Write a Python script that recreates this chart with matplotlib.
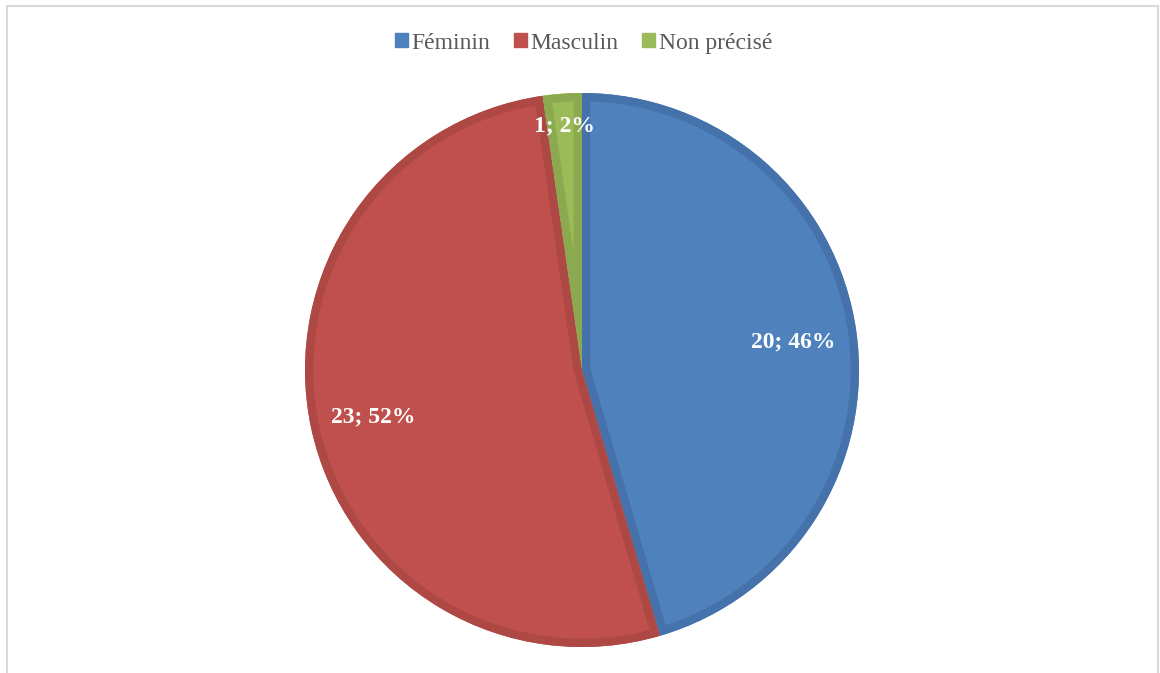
import matplotlib.pyplot as plt
from matplotlib.patches import Wedge
import numpy as np

labels = ["Féminin", "Masculin", "Non précisé"]
counts = [20, 23, 1]
percents = [46, 52, 2]
colors = ["#4F81BD", "#C0504D", "#9BBB59"]
edge_colors = ["#4672AB", "#AE4845", "#8BA94F"]

plt.rcParams['font.family'] = ['Liberation Serif', 'DejaVu Serif']

fig = plt.figure(figsize=(11.6, 6.73), dpi=100)
ax = fig.add_axes([0, 0, 1, 1])

cx, cy, r = 582, 303, 277
wedges, _ = ax.pie(counts, colors=colors, startangle=90, counterclock=False,
                   center=(cx, cy), radius=r, frame=True,
                   wedgeprops=dict(edgecolor='none'))
ax.set_xlim(0, 1160)
ax.set_ylim(0, 673)
ax.set_aspect('equal')
ax.axis('off')

# darker inner border on each slice: thick outline clipped to the slice
for w, ec in zip(wedges, edge_colors):
    border = Wedge(w.center, w.r, w.theta1, w.theta2, fill=False,
                   edgecolor=ec, linewidth=12)
    ax.add_patch(border)
    border.set_clip_path(w)

dists = [0.77, 0.77, 0.89]
for w, n, p, d in zip(wedges, counts, percents, dists):
    th = np.deg2rad((w.theta1 + w.theta2) / 2)
    ax.text(cx + d * r * np.cos(th), cy + d * r * np.sin(th) - 2, f"{n}; {p}%",
            ha='center', va='center', color='white', fontsize=17,
            fontweight='bold')

handles = [plt.Rectangle((0, 0), 1, 1, color=c) for c in colors]
fig.legend(handles, labels, loc='center', bbox_to_anchor=(0.503, 0.936),
           ncol=3, frameon=False, fontsize=17, handlelength=0.55,
           handleheight=0.55, handletextpad=0.15, columnspacing=1.0,
           labelcolor='#595959')

# light chart border
ax.add_patch(plt.Rectangle((7, -10), 1151, 677, fill=False,
                           edgecolor='#D9D9D9', linewidth=1.5, clip_on=False))

fig.savefig('out.png', dpi=100)
